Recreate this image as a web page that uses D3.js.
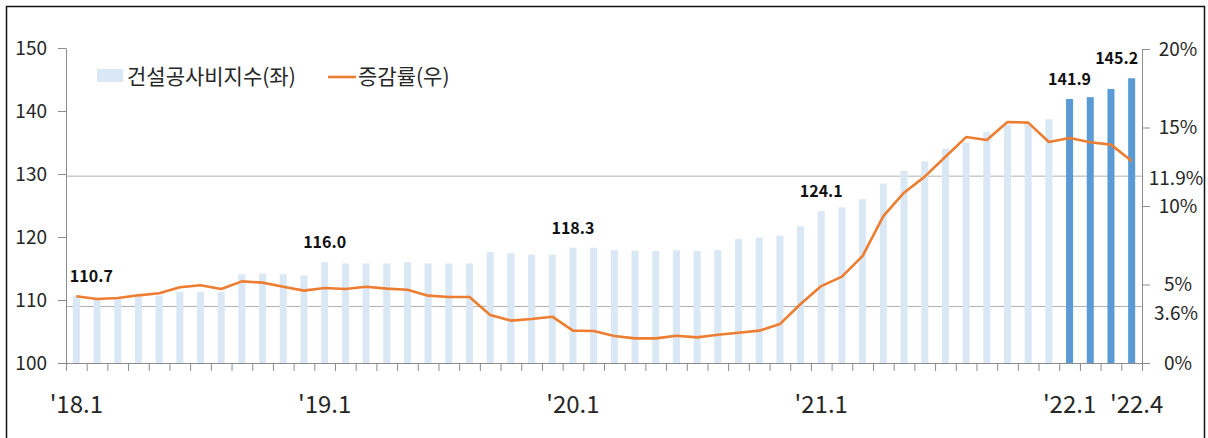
<!DOCTYPE html>
<html><head><meta charset="utf-8">
<script src="https://cdn.jsdelivr.net/npm/d3@7"></script>
<style>
html,body{margin:0;padding:0;background:#fff;}
svg{display:block;font-family:"Noto Sans CJK KR","Noto Sans",sans-serif;}
</style></head>
<body><svg id="c" width="1208" height="438"></svg>
<script>
// ---- data ----
const years = [2018, 2019, 2020, 2021, 2022];
const months = [];
years.forEach(y => { const n = y === 2022 ? 4 : 12; for (let m = 1; m <= n; m++) months.push(y + "." + m); });

const indexValues = [
  110.7, 110.2, 110.2, 110.5, 110.7, 111.3, 111.3, 111.3, 114.1, 114.2, 114.1, 113.9,
  116.0, 115.8, 115.8, 115.8, 116.0, 115.8, 115.8, 115.8, 117.6, 117.4, 117.2, 117.2,
  118.3, 118.3, 117.9, 117.8, 117.8, 117.9, 117.8, 117.9, 119.7, 119.9, 120.2, 121.7,
  124.1, 124.7, 126.0, 128.5, 130.5, 132.0, 134.0, 135.0, 136.7, 137.8, 138.0, 138.7,
  141.9, 142.2, 143.5, 145.2
];
const growthRate = [
  4.25, 4.08, 4.14, 4.31, 4.44, 4.82, 4.95, 4.71, 5.20, 5.12, 4.86, 4.61,
  4.78, 4.71, 4.86, 4.74, 4.67, 4.29, 4.20, 4.20, 3.06, 2.70, 2.80, 2.95,
  2.06, 2.04, 1.72, 1.57, 1.57, 1.74, 1.63, 1.80, 1.93, 2.06, 2.48, 3.76,
  4.90, 5.50, 6.82, 9.36, 10.85, 11.87, 13.14, 14.39, 14.20, 15.35, 15.31, 14.08,
  14.33, 14.06, 13.91, 12.87
];
const highlightMonths = ["2022.1", "2022.2", "2022.3", "2022.4"];
const labeledMonths = ["2018.1", "2019.1", "2020.1", "2021.1", "2022.1", "2022.4"];
const xTickLabels = [["2018.1", "'18.1"], ["2019.1", "'19.1"], ["2020.1", "'20.1"], ["2021.1", "'21.1"], ["2022.1", "'22.1"], ["2022.4", "'22.4"]];
const leftTicks = [100, 110, 120, 130, 140, 150];
const rightTicks = [0, 5, 10, 15, 20];
const refRates = [11.9, 3.6];
const legendLabels = ["건설공사비지수(좌)", "증감률(우)"];

// ---- layout ----
const svg = d3.select("#c");
const L = 66, R = 1142, T = 48, B = 363;
const x = d3.scaleBand().domain(months).range([L, R]).paddingInner(0.66).paddingOuter(0.33);
const xi = d3.scaleLinear().domain([0, months.length]).range([L, R]);
const yL = d3.scaleLinear().domain([100, 150]).range([B, T]);
const yR = d3.scaleLinear().domain([0, 20]).range([B, 49]);
const cx = m => x(m) + x.bandwidth() / 2;

const axisColor = "#8c8c8c", textColor = "#262626";

// frame
svg.append("rect").attr("x", 6.5).attr("y", 6.5).attr("width", 1198).attr("height", 440)
  .attr("fill", "none").attr("stroke", "#111").attr("stroke-width", 1.5);

// reference lines
svg.selectAll(".ref").data(refRates).join("line")
  .attr("x1", L).attr("x2", R).attr("y1", d => yR(d)).attr("y2", d => yR(d))
  .attr("stroke", "#b0b0b0").attr("stroke-width", 1);

// bars
svg.selectAll(".bar").data(months).join("rect")
  .attr("x", d => x(d)).attr("width", x.bandwidth())
  .attr("y", (d, i) => yL(indexValues[i])).attr("height", (d, i) => B - yL(indexValues[i]))
  .attr("fill", d => highlightMonths.includes(d) ? "#5b9bd5" : "#dae7f4");

// line
const line = d3.line().x((d, i) => cx(months[i])).y(d => yR(d));
svg.append("path").datum(growthRate).attr("d", line)
  .attr("fill", "none").attr("stroke", "#ed7d31").attr("stroke-width", 2.6).attr("stroke-linejoin", "round");

// axes
function styleAxis(g) {
  g.selectAll(".domain").attr("stroke", axisColor);
  g.selectAll(".tick line").attr("stroke", axisColor);
  g.selectAll("text").attr("fill", textColor).attr("font-family", '"Noto Sans CJK KR","Noto Sans",sans-serif');
}
const gL = svg.append("g").attr("transform", `translate(${L},0)`)
  .call(d3.axisLeft(yL).tickValues(leftTicks).tickSize(8).tickSizeOuter(0).tickPadding(11));
styleAxis(gL); gL.selectAll("text").attr("font-size", 19);

const gR = svg.append("g").attr("transform", `translate(${R},0)`)
  .call(d3.axisRight(yR).tickValues(rightTicks).tickSize(8).tickSizeOuter(0).tickFormat(d => d + "%"));
styleAxis(gR);
gR.selectAll("text").attr("font-size", 19).attr("text-anchor", "middle").attr("x", 36);
const refLabelShift = { 11.9: 2, 3.6: 7 };
svg.selectAll(".reflab").data(refRates).join("text")
  .attr("x", R + 34).attr("y", d => yR(d) + refLabelShift[d]).attr("dy", "0.35em").attr("text-anchor", "middle")
  .attr("font-size", 19).attr("fill", textColor).text(d => d + "%");

const gB = svg.append("g").attr("transform", `translate(0,${B})`)
  .call(d3.axisBottom(xi).tickValues(d3.range(months.length + 1)).tickFormat("").tickSize(8).tickSizeOuter(0));
styleAxis(gB);
svg.selectAll(".xlab").data(xTickLabels).join("text")
  .attr("x", d => cx(d[0]) + (d[0] === "2022.4" ? 5 : 0)).attr("y", 413)
  .attr("text-anchor", "middle").attr("font-size", 24).attr("fill", textColor).text(d => d[1]);

// data labels
const labelOffset = { "2018.1": 15, "2022.4": -15 };
svg.selectAll(".dlab").data(labeledMonths).join("text")
  .attr("x", d => cx(d) + (labelOffset[d] || 0))
  .attr("y", d => yL(indexValues[months.indexOf(d)]) - 14)
  .attr("text-anchor", "middle").attr("font-size", 16).attr("font-weight", "bold")
  .attr("fill", "#111").text(d => indexValues[months.indexOf(d)].toFixed(1));

// legend
const lg = svg.append("g");
lg.append("rect").attr("x", 97).attr("y", 69).attr("width", 26).attr("height", 13).attr("fill", "#dae7f4");
lg.append("text").attr("x", 127).attr("y", 84).attr("font-size", 21).attr("fill", textColor).text(legendLabels[0]);
lg.append("line").attr("x1", 328).attr("x2", 356).attr("y1", 77).attr("y2", 77).attr("stroke", "#ed7d31").attr("stroke-width", 2.6);
lg.append("text").attr("x", 358).attr("y", 84).attr("font-size", 21).attr("fill", textColor).text(legendLabels[1]);
</script></body></html>
